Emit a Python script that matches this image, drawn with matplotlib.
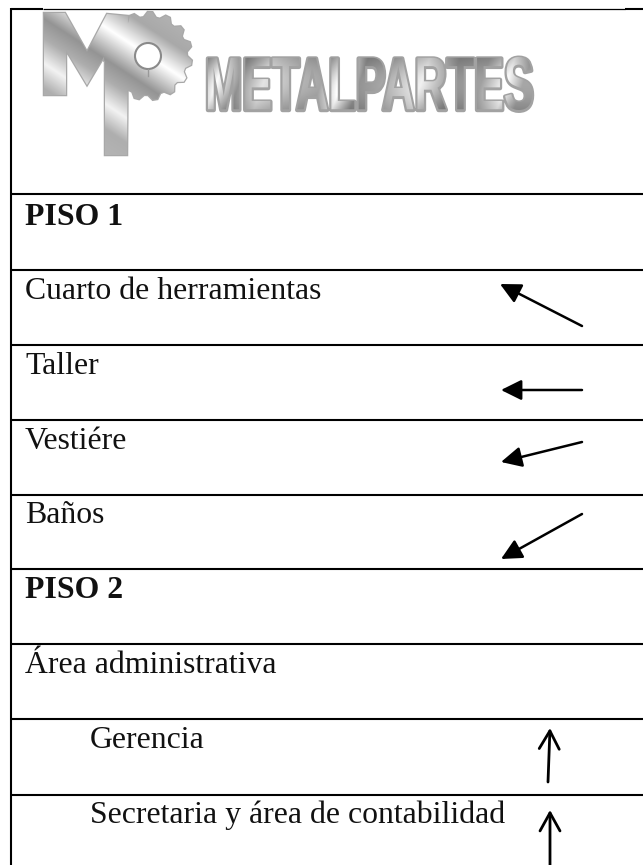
import numpy as np
import matplotlib
matplotlib.use("Agg")
import matplotlib.pyplot as plt
from matplotlib.path import Path
from matplotlib.patches import PathPatch, Circle
from matplotlib.patheffects import AbstractPathEffect
from matplotlib.textpath import TextPath
from matplotlib.font_manager import FontProperties
from matplotlib.transforms import Affine2D

W, H = 643, 865
row_lines = [194, 270, 345, 420, 495, 569, 644, 719, 795]
labels = ["PISO 1", "Cuarto de herramientas", "Taller", "Vestiére", "Baños",
          "PISO 2", "Área administrativa", "Gerencia", "Secretaria y área de contabilidad"]
baselines = [225, 299, 374, 449, 523, 598, 673, 748, 823]
label_x = [25, 25, 25, 25, 25, 25, 25, 90, 90]
bold = [True, False, False, False, False, True, False, False, False]

filled_tails = [(582, 326), (582, 390), (582, 442), (582, 514)]
filled_tips = [(500, 284), (501, 390), (501, 462), (501, 559)]
open_tails = [(548, 782), (550, 865)]
open_tips = [(550, 728), (550, 810)]

brand = "METALPARTES"
brand_box = (208, 57, 532, 110)
mono_outline = [(44, 13), (65, 13), (87, 52), (107, 14), (128, 16), (127, 155), (105, 155),
                (105, 55), (87, 85), (66, 50), (66, 95), (44, 95)]
gear_center = (148, 56)
gear_radii = (44, 39, 13)
gear_teeth = 15
shade_t = [-40, 0, 28, 60, 80, 105, 130, 170]
shade_v = [0.72, 0.66, 1.0, 0.58, 0.68, 0.95, 0.68, 0.72]
word_x = [208, 225, 248, 272, 300, 330, 350, 368, 390, 430, 460, 490, 515, 532]
word_v = [0.60, 0.95, 0.55, 0.85, 0.70, 0.62, 1.0, 0.55, 0.62, 0.90, 0.55, 0.60, 0.95, 0.62]


class VerticalStretch(AbstractPathEffect):
    """Draw text glyphs stretched vertically about a device-space baseline."""

    def __init__(self, by, k, edge, lw):
        super().__init__()
        self.by, self.k, self.edge, self.lw = by, k, edge, lw

    def draw_path(self, renderer, gc, tpath, affine, rgbFace=None):
        stretched = affine + Affine2D().translate(0, -self.by).scale(1, self.k).translate(0, self.by)
        gc0 = renderer.new_gc()
        gc0.copy_properties(gc)
        gc0.set_foreground(self.edge)
        gc0.set_linewidth(self.lw)
        renderer.draw_path(gc0, tpath, stretched, rgbFace)
        gc0.restore()


fig = plt.figure(figsize=(W / 100, H / 100), dpi=100)
ax = fig.add_axes([0, 0, 1, 1])
ax.set_xlim(0, W)
ax.set_ylim(H, 0)
ax.axis("off")

# table rules
lw = 1.5
ax.plot([11, 11], [8, H], color="black", lw=lw, solid_capstyle="butt")
ax.plot([11, 43], [8.5, 8.5], color="black", lw=lw, solid_capstyle="butt")
ax.plot([43, 625], [8.5, 8.5], color="black", lw=0.9, solid_capstyle="butt")
ax.plot([625, W], [9, 9], color="black", lw=lw, solid_capstyle="butt")
for y in row_lines:
    ax.plot([11, W], [y, y], color="black", lw=lw, solid_capstyle="butt")

# labels
for s, x, y, b in zip(labels, label_x, baselines, bold):
    ax.text(x, y, s, family="Liberation Serif", fontsize=22.9,
            weight="bold" if b else "normal", color="#111111", va="baseline", ha="left")

# arrows
for tail, tip in zip(filled_tails, filled_tips):
    ax.annotate("", xy=tip, xytext=tail,
                arrowprops=dict(arrowstyle="-|>,head_length=1.25,head_width=0.62", mutation_scale=10,
                                lw=1.8, color="black", shrinkA=0, shrinkB=0))
for tail, tip in zip(open_tails, open_tips):
    ax.annotate("", xy=tip, xytext=tail, annotation_clip=False,
                arrowprops=dict(arrowstyle="->,head_length=1.3,head_width=0.72", mutation_scale=10,
                                lw=2.0, color="black", shrinkA=0, shrinkB=0))

# monogram
xx, yy = np.meshgrid(np.arange(40, 200, 0.5), np.arange(10, 160, 0.5))
t = yy - 0.66 * (xx - 107)
shade = np.interp(t, shade_t, shade_v)
angles = np.linspace(0, 2 * np.pi, gear_teeth * 4, endpoint=False)
radii = np.where(np.arange(len(angles)) % 4 < 2, gear_radii[0], gear_radii[1])
gx = gear_center[0] + radii * np.cos(angles + 0.1)
gy = gear_center[1] + radii * np.sin(angles + 0.1)
gear_path = Path(np.r_[np.c_[gx, gy], [[gx[0], gy[0]]]], closed=True)
hole = Circle(gear_center, gear_radii[2], fc="white", ec="#8a8a8a", lw=1.5, zorder=4)
mono_path = Path(np.r_[np.array(mono_outline), [mono_outline[0]]], closed=True)
for p in (gear_path, mono_path):
    ax.add_patch(PathPatch(p, fc="none", ec="#a8a8a8", lw=1.8, transform=ax.transData, zorder=2))
    im = ax.imshow(shade, extent=(40, 200, 160, 10), cmap="gray", vmin=0, vmax=1,
                   aspect="auto", interpolation="bilinear", zorder=3)
    clip = PathPatch(p, transform=ax.transData, fc="none", ec="none")
    ax.add_patch(clip)
    im.set_clip_path(clip)
ax.add_patch(hole)
ax.plot([148, 148], [69, 76], color="#999999", lw=1, zorder=4)

# brand word: a real text object, stretched to the logo's tall proportions, then metal shading
x0, y0, x1, y1 = brand_box
fp = FontProperties(family="Liberation Sans", weight="bold")
tp = TextPath((0, 0), brand, size=10, prop=fp)
bb = tp.get_extents()
font_pt = (x1 - x0) / (bb.width / 10 * 100 / 72)
k = (y1 - y0) / (bb.height / 10 * font_pt * 100 / 72)
by = fig.dpi * H / 100 - y1
ax.text(x0 - bb.x0 / 10 * font_pt * 100 / 72, y1, brand, fontproperties=fp, fontsize=font_pt,
        color="#b5b5b5", ha="left", va="baseline", zorder=2,
        path_effects=[VerticalStretch(by, k, "#a2a2a2", 3.2)])
tr = (Affine2D().translate(-bb.x0, -bb.y0).scale((x1 - x0) / bb.width, -(y1 - y0) / bb.height)
      .translate(x0, y1))
word_path = tr.transform_path(tp)
wx, wy = np.meshgrid(np.arange(x0, x1, 0.5), np.arange(y0, y1, 0.5))
word_shade = np.interp(wx + 0.35 * (wy - y0), word_x, word_v)
word_shade = word_shade * (0.85 + 0.2 * np.sin(np.pi * (wy - y0) / (y1 - y0)))
wim = ax.imshow(word_shade, extent=(x0, x1, y1, y0), cmap="gray", vmin=0, vmax=1,
                aspect="auto", interpolation="bilinear", zorder=3)
wclip = PathPatch(word_path, transform=ax.transData, fc="none", ec="none")
ax.add_patch(wclip)
wim.set_clip_path(wclip)

ax.set_xlim(0, W)
ax.set_ylim(H, 0)
fig.savefig("out.png", dpi=100, facecolor="white")
